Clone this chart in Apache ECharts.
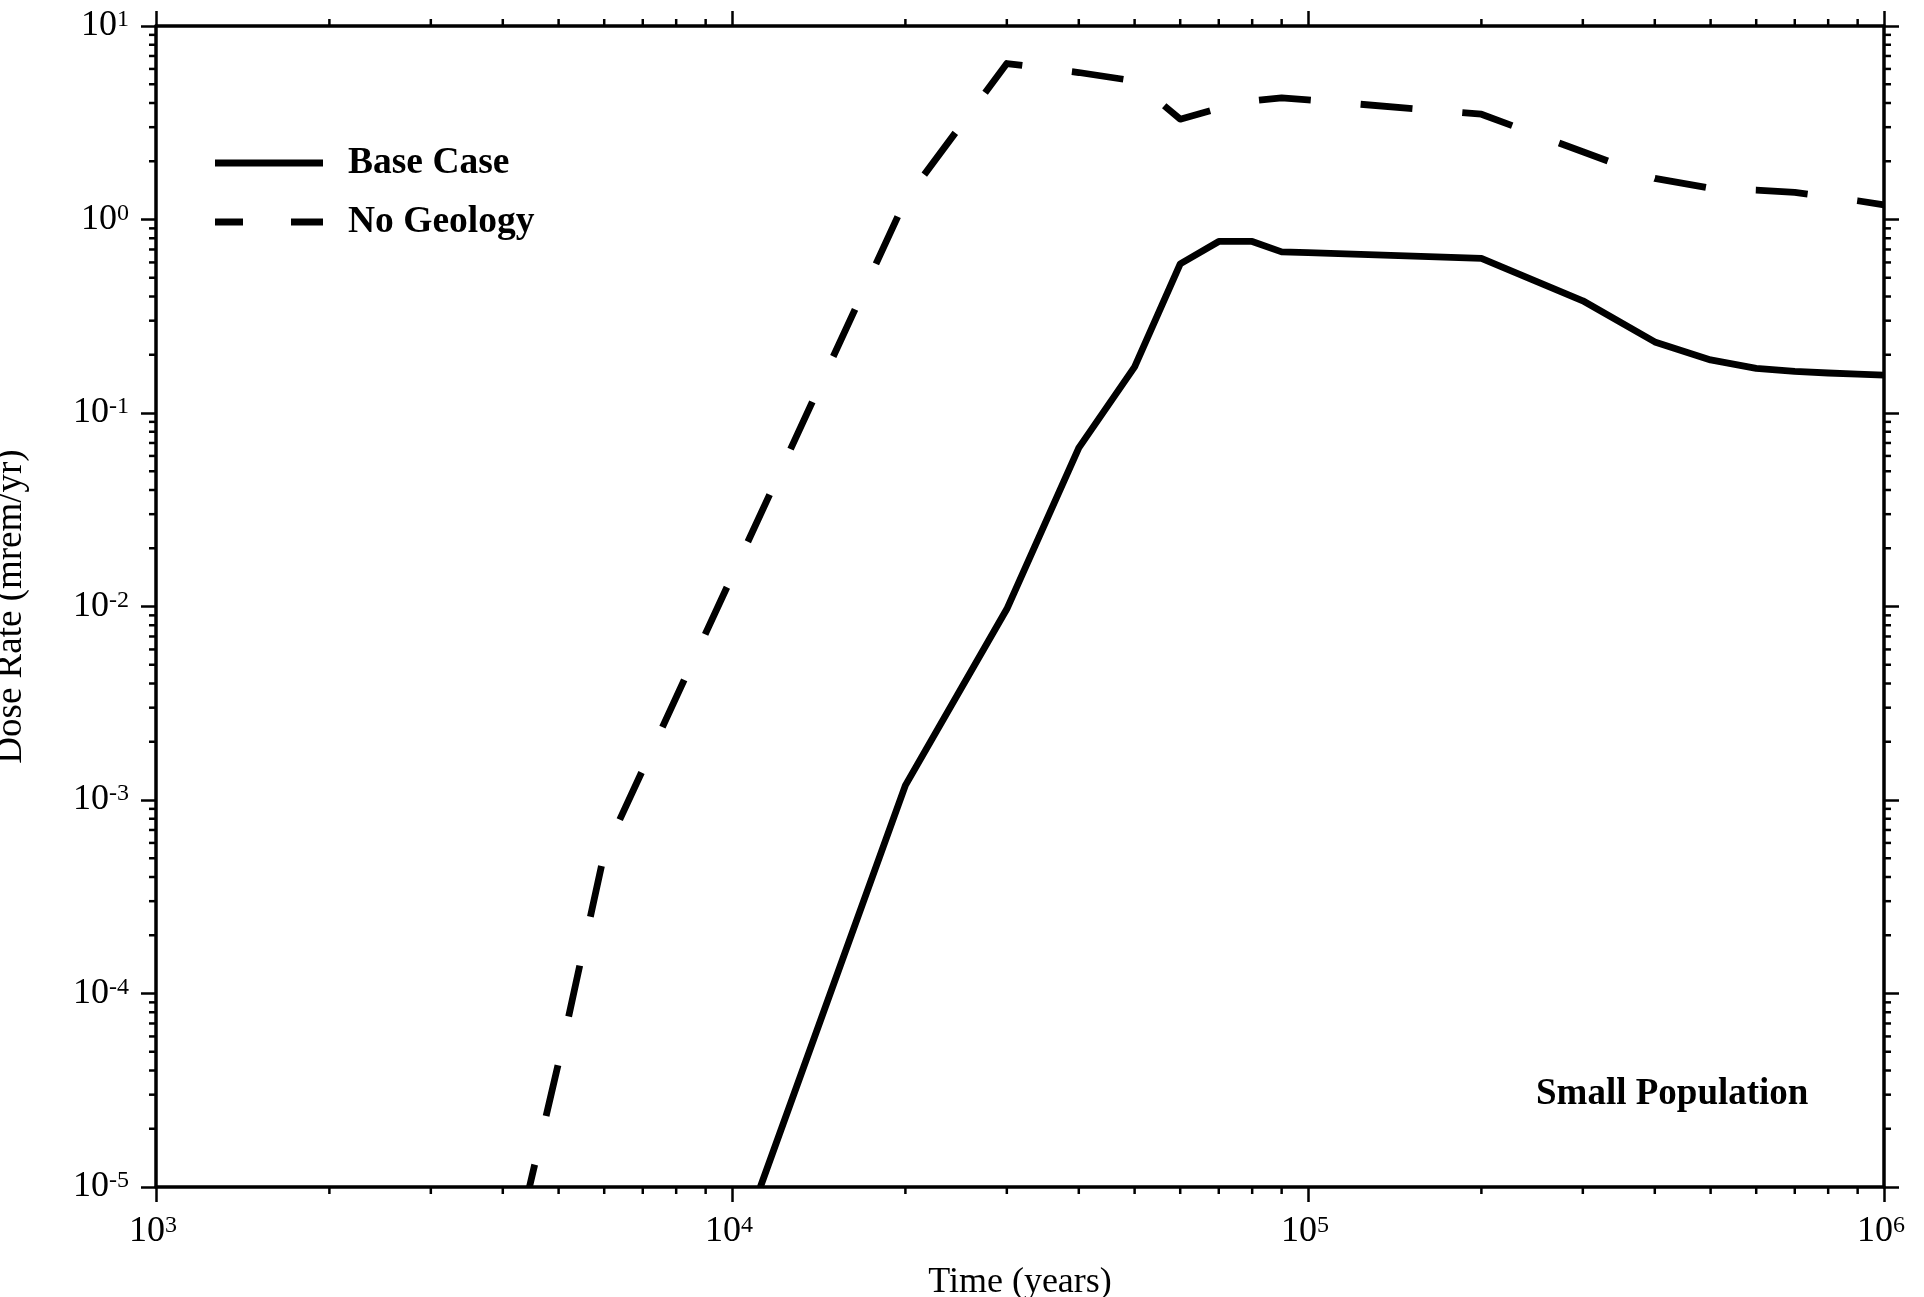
<!DOCTYPE html>
<html>
<head>
<meta charset="utf-8">
<script src="https://cdn.jsdelivr.net/npm/echarts@6/dist/echarts.min.js"></script>
<style>
html,body{margin:0;padding:0;background:#fff;}
#chart{width:1924px;height:1297px;}
</style>
</head>
<body>
<div id="chart"></div>
<script>
// ---- data ----
const baseTime = [11200, 20000, 30000, 40000, 50000, 60000, 70000, 80000, 90000, 100000, 200000, 300000, 400000, 500000, 600000, 700000, 800000, 900000, 1000000];
const baseDose = [1e-5, 1.19e-3, 0.0097, 0.066, 0.173, 0.59, 0.77, 0.77, 0.68, 0.675, 0.63, 0.38, 0.233, 0.188, 0.170, 0.164, 0.161, 0.159, 0.157];

const noGeoTime = [4450, 5000, 6000, 20000, 30000, 40000, 50000, 60000, 70000, 80000, 90000, 100000, 200000, 300000, 400000, 500000, 600000, 700000, 800000, 900000, 1000000];
const noGeoDose = [1e-5, 4.4e-5, 5.3e-4, 1.26, 6.4, 5.75, 5.2, 3.3, 3.75, 4.1, 4.25, 4.15, 3.5, 2.24, 1.63, 1.45, 1.42, 1.38, 1.31, 1.25, 1.19];

const seriesNames = ['Base Case', 'No Geology'];
const xTickExponents = [3, 4, 5, 6];
const yTickExponents = [-5, -4, -3, -2, -1, 0, 1];
const xTitle = 'Time (years)';
const yTitle = 'Dose Rate (mrem/yr)';
const annotation = 'Small Population';

// ---- helpers ----
const FONT = 'Liberation Serif';
const xMin = Math.pow(10, xTickExponents[0]), xMax = Math.pow(10, xTickExponents[xTickExponents.length - 1]);
const yMin = Math.pow(10, yTickExponents[0]), yMax = Math.pow(10, yTickExponents[yTickExponents.length - 1]);

function expLabel(list) {
  return function (v) {
    const e = Math.round(Math.log10(v));
    if (list.indexOf(e) < 0) return '';
    return '{b|10}{s|' + e + '}';
  };
}
const richLabel = {
  b: { fontFamily: FONT, fontSize: 36, lineHeight: 36, color: '#000' },
  s: { fontFamily: FONT, fontSize: 24, lineHeight: 24, color: '#000', verticalAlign: 'top' }
};

const minorFactors = [2, 3, 4, 5, 6, 7, 8, 9];
function minorTicks(list) {
  const out = [];
  for (let i = 0; i < list.length - 1; i++)
    for (const f of minorFactors) out.push(f * Math.pow(10, list[i]));
  return out;
}
const minorData = minorTicks(xTickExponents).map(v => [v, yMin, 0])
  .concat(minorTicks(yTickExponents).map(v => [xMin, v, 1]));

const AXLINE = { color: '#000', width: 3.5 };
const TICK = { inside: false, length: 15, lineStyle: { color: '#000', width: 2.5 } };

function logAxis(extra) {
  return Object.assign({
    type: 'log', logBase: 10,
    axisLine: { show: true, onZero: false, lineStyle: AXLINE },
    axisTick: TICK,
    splitLine: { show: false },
    minorTick: { show: false },
    minorSplitLine: { show: false }
  }, extra);
}

const legendText = { fontFamily: FONT, fontSize: 37.5, fontWeight: 'bold', color: '#000', lineHeight: 36, padding: [0, 0, 0, 20] };

const chart = echarts.init(document.getElementById('chart'), null, { renderer: 'canvas' });

const option = {
  backgroundColor: '#fff',
  animation: false,
  grid: { left: 156, right: 40, top: 26, bottom: 110, containLabel: false, outerBoundsMode: 'none' },
  title: {
    text: annotation, left: 1536, top: 1076, padding: 0,
    textStyle: { fontFamily: FONT, fontSize: 37, fontWeight: 'bold', color: '#000' }
  },
  legend: [
    {
      data: [{ name: seriesNames[0], icon: 'path://M0,0H108V7H0Z' }],
      left: 215, top: 144, padding: 0, itemWidth: 108, itemHeight: 7,
      selectedMode: false, itemStyle: { color: '#000', borderWidth: 0 },
      textStyle: legendText
    },
    {
      data: [{ name: seriesNames[1], icon: 'path://M0,0H28V7H0Z M76,0H108V7H76Z' }],
      left: 215, top: 203, padding: 0, itemWidth: 108, itemHeight: 7,
      selectedMode: false, itemStyle: { color: '#000', borderWidth: 0 },
      textStyle: legendText
    }
  ],
  xAxis: [
    logAxis({
      position: 'bottom', min: xMin, max: xMax,
      name: xTitle, nameLocation: 'middle', nameGap: 78,
      nameTextStyle: { fontFamily: FONT, fontSize: 36, color: '#000' },
      axisLabel: { margin: 27, padding: [0, 6, 0, 0], formatter: expLabel(xTickExponents), rich: richLabel, showMinLabel: true, showMaxLabel: true, hideOverlap: false }
    }),
    logAxis({ position: 'top', min: xMin, max: xMax, axisLabel: { show: false } })
  ],
  yAxis: [
    logAxis({
      position: 'left', min: yMin, max: yMax,
      name: yTitle, nameLocation: 'middle', nameGap: 126, nameRotate: 90,
      nameTextStyle: { fontFamily: FONT, fontSize: 37, color: '#000' },
      axisLabel: { margin: 27, formatter: expLabel(yTickExponents), rich: richLabel, showMinLabel: true, showMaxLabel: true, hideOverlap: false }
    }),
    logAxis({ position: 'right', min: yMin, max: yMax, axisLabel: { show: false } })
  ],
  series: [
    {
      name: seriesNames[0], type: 'line', xAxisIndex: 0, yAxisIndex: 0,
      data: baseTime.map((t, i) => [t, baseDose[i]]),
      symbol: 'none', clip: true,
      lineStyle: { color: '#000', width: 6.8, type: 'solid', join: 'round' },
      itemStyle: { color: '#000' }
    },
    {
      name: seriesNames[1], type: 'line', xAxisIndex: 0, yAxisIndex: 0,
      data: noGeoTime.map((t, i) => [t, noGeoDose[i]]),
      symbol: 'none', clip: true,
      lineStyle: { color: '#000', width: 6.8, type: [52, 50], dashOffset: 29, cap: 'butt', join: 'round' },
      itemStyle: { color: '#000' }
    },
    {
      name: 'minorTicks', type: 'custom', xAxisIndex: 0, yAxisIndex: 0,
      data: minorData, clip: false, silent: true, z: 10,
      encode: { x: 0, y: 1 },
      renderItem: function (params, api) {
        const cs = params.coordSys;
        const L = 7;
        const st = { stroke: '#000', lineWidth: 2.5 };
        const p = api.coord([api.value(0), api.value(1)]);
        if (api.value(2) === 0) {
          const x = p[0], b = cs.y + cs.height, t = cs.y;
          return { type: 'group', children: [
            { type: 'line', shape: { x1: x, y1: b, x2: x, y2: b + L }, style: st },
            { type: 'line', shape: { x1: x, y1: t, x2: x, y2: t - L }, style: st }
          ] };
        } else {
          const y = p[1], l = cs.x, r = cs.x + cs.width;
          return { type: 'group', children: [
            { type: 'line', shape: { x1: l, y1: y, x2: l - L, y2: y }, style: st },
            { type: 'line', shape: { x1: r, y1: y, x2: r + L, y2: y }, style: st }
          ] };
        }
      }
    }
  ]
};
chart.setOption(option);
</script>
</body>
</html>
